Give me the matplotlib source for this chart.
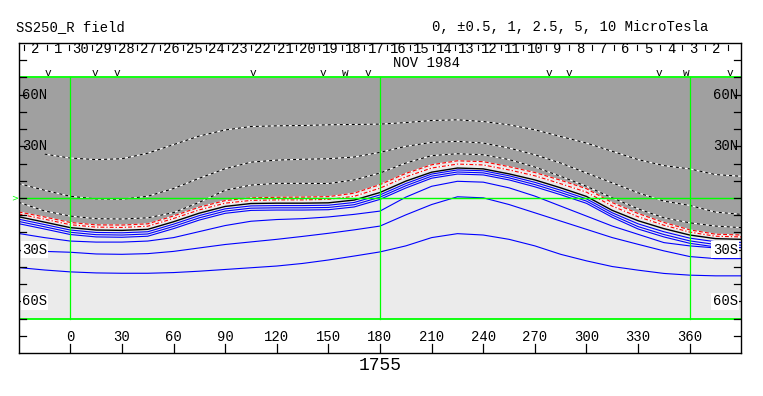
import numpy as np
import matplotlib.pyplot as plt

nan = np.nan

# Carrington longitude grid the contours were read on
lon = [-30, -15, 0, 15, 30, 45, 60, 75, 90, 105, 120, 135, 150, 165, 180,
       195, 210, 225, 240, 255, 270, 285, 300, 315, 330, 345, 360, 375, 390]

# dashed contours in the dark (negative) region
line_a = [nan, 25.5, 23.2, 22.3, 22.8, 26.0, 31.0, 36.0, 39.5, 41.5, 41.9, 42.1, 42.5, 42.7, 42.9,
          43.8, 45.0, 45.4, 44.4, 42.5, 39.6, 35.7, 31.9, 27.1, 22.3, 18.8, 16.9, 13.6, 12.6]
line_b = [8.4, 4.5, 1.0, -0.5, -0.7, 1.0, 5.5, 11.5, 17.0, 20.8, 22.0, 22.5, 22.8, 23.8, 26.5,
          30.0, 32.3, 32.9, 31.9, 29.0, 25.1, 20.3, 14.5, 8.8, 3.0, -1.8, -4.3, -8.2, -9.5]
line_c = [-2.5, -7.5, -10.5, -12.0, -12.2, -11.5, -8.5, -2.5, 4.5, 7.5, 8.5, 8.5, 8.4, 10.5, 14.5,
          20.3, 24.6, 25.7, 25.1, 22.3, 18.0, 12.6, 6.8, 0.1, -6.3, -11.5, -14.4, -16.3, -17.2]
# red contours (top one bounds the dark region)
red1 = [-8.1, -11.0, -14.2, -15.6, -15.7, -15.0, -10.4, -5.3, -1.5, 0.1, 0.4, 0.5, 0.8, 2.8, 7.8,
        14.3, 19.3, 21.6, 21.1, 18.2, 14.8, 10.3, 5.4, -2.7, -9.0, -14.2, -18.5, -21.0, -21.5]
red2 = [-9.3, -12.3, -15.5, -16.9, -17.1, -16.4, -11.9, -6.9, -3.0, -1.4, -1.1, -1.1, -0.8, 1.0, 5.7,
        12.3, 17.4, 19.7, 19.2, 16.3, 12.9, 8.3, 3.4, -4.7, -10.9, -15.8, -19.8, -22.2, -22.6]
# neutral line
neutral = [-10.9, -14.0, -17.2, -18.6, -18.8, -18.2, -13.8, -8.8, -4.9, -3.2, -3.0, -3.0, -2.8, -1.2, 3.2,
           9.8, 15.0, 17.4, 16.9, 14.0, 10.5, 5.9, 0.9, -7.2, -13.2, -17.8, -21.5, -23.6, -24.0]
# blue contours (positive)
blue1 = [-12.3, -15.4, -18.6, -20.0, -20.2, -19.6, -15.2, -10.2, -6.3, -4.6, -4.4, -4.4, -4.2, -2.6, 1.8,
         8.4, 13.9, 16.3, 15.8, 12.9, 9.1, 4.5, -0.5, -8.6, -15.0, -19.6, -23.3, -25.4, -25.8]
blue2 = [-13.6, -16.7, -19.9, -21.3, -21.5, -20.9, -16.5, -11.5, -7.6, -5.9, -5.7, -5.7, -5.5, -3.9, 0.5,
         7.1, 12.7, 15.1, 14.6, 11.7, 7.8, 3.2, -1.8, -9.9, -16.6, -21.2, -24.9, -27.0, -27.4]
blue3 = [-14.9, -18.0, -21.2, -22.6, -22.8, -22.2, -17.8, -12.8, -8.9, -7.2, -7.0, -7.0, -6.8, -5.2, -0.8,
         5.8, 11.5, 13.9, 13.4, 10.5, 6.5, 1.9, -3.1, -11.2, -18.0, -22.6, -26.3, -28.4, -28.8]
blue4 = [-20.6, -23.0, -25.0, -25.6, -25.6, -25.0, -23.0, -19.5, -16.0, -13.5, -12.5, -12.0, -11.0, -9.5, -7.6,
         0.5, 6.8, 9.7, 9.2, 5.9, 1.1, -4.7, -10.5, -16.3, -21.1, -25.9, -27.8, -29.0, nan]
blue5 = [-30.5, -31.0, -31.5, -32.5, -32.7, -32.3, -31.0, -29.0, -27.0, -25.5, -24.0, -22.3, -20.5, -18.5, -16.3,
         -9.8, -3.8, 0.7, 0.1, -3.8, -8.6, -13.4, -18.2, -23.0, -26.9, -30.7, -34.0, -35.2, -35.2]
blue6 = [-40.4, -41.8, -42.9, -43.5, -43.7, -43.7, -43.3, -42.5, -41.5, -40.5, -39.5, -38.0, -36.0, -33.7, -31.3,
         -27.8, -23.0, -20.7, -21.5, -24.0, -27.8, -32.7, -36.5, -39.8, -41.9, -43.8, -44.8, -45.2, -45.2]

day_labels = ['2', '1', '30', '29', '28', '27', '26', '25', '24', '23', '22', '21', '20', '19', '18', '17',
              '16', '15', '14', '13', '12', '11', '10', '9', '8', '7', '6', '5', '4', '3', '2']
first_day_lon = -20.4
v_lons = [-12.8, 14.5, 27.3, 105.9, 147.1, 172.7, 278.0, 289.6, 342.3, 383.3]
w_lons = [159.9, 357.7]
lat_ticks = [60, 30, -30, -60]
lat_names = ['60N', '30N', '30S', '60S']
lon_ticks = list(range(0, 361, 30))

dark = '#a0a0a0'
light = '#ebebeb'
green = '#00ff00'
blue = '#0000ff'
mono = 'Liberation Mono'

fig = plt.figure(figsize=(7.63, 3.96), dpi=100)
ax = fig.add_axes([19/763, 1-353/396, 722/763, 310/396])
ax.set_xlim(-29.8, 389.8)
ax.set_ylim(-90, 90)
ax.set_xticks([])
ax.set_yticks([])
for s in ax.spines.values():
    s.set_linewidth(1)
    s.set_zorder(10)

lon_a = np.array(lon)
# background shading
ax.fill_between([-30, 390], -70, 70, color=light, lw=0, zorder=0)
ax.fill_between(lon_a, red1, 70, color=dark, lw=0, zorder=1)

# black/white dashed contours
for ln in [line_a, line_b, line_c]:
    ax.plot(lon_a, ln, color='white', lw=0.8, zorder=3)
    ax.plot(lon_a, ln, color='black', lw=0.8, ls=(0, (2.7, 2.7)), zorder=4)

ax.plot(lon_a, red1, color='white', lw=0.8, zorder=3)
ax.plot(lon_a, red1, color='red', lw=0.8, ls=(0, (3.5, 2)), zorder=4)
ax.plot(lon_a, red2, color='white', lw=0.8, zorder=3)
ax.plot(lon_a, red2, color='red', lw=0.8, ls=(0, (3.5, 1.8, 1.2, 1.8)), zorder=4)
ax.plot(lon_a, neutral, color='black', lw=1.0, zorder=4)
for ln in [blue1, blue2, blue3, blue4, blue5, blue6]:
    ax.plot(lon_a, ln, color=blue, lw=0.8, zorder=4)

# green grid
ax.plot([-30, 390], [70, 70], color=green, lw=1.3, zorder=5)
ax.plot([-30, 390], [-70, -70], color=green, lw=1.3, zorder=5)
ax.plot([-30, 390], [0, 0], color=green, lw=1.0, zorder=5)
for x in [0, 180, 360]:
    ax.plot([x, x], [-70, 70], color=green, lw=0.9, zorder=5)
ax.text(-30.5, 0, '>', color=green, fontsize=6, ha='right', va='center', clip_on=False)

# frame ticks
for lat in range(-80, 81, 10):
    ax.plot([-29.8, -25.8], [lat, lat], color='black', lw=0.9, zorder=6)
    ax.plot([385.8, 389.8], [lat, lat], color='black', lw=0.9, zorder=6)
for x in lon_ticks:
    ax.plot([x, x], [-90, -84.8], color='black', lw=0.9, zorder=6)
    ax.text(x, -80.7, str(x), fontsize=10, family=mono, ha='center', va='center')

# latitude labels
for lat, name in zip(lat_ticks, lat_names):
    bb = dict(boxstyle='square,pad=0.1', fc='white', ec='none') if 'S' in name else None
    ax.text(-28.1, lat, name, fontsize=10, family=mono, ha='left', va='center', bbox=bb, zorder=7)
    ax.text(388.0, lat, name, fontsize=10, family=mono, ha='right', va='center', bbox=bb, zorder=7)

# day labels along the top
deg_per_day = 360 / 27.2753
for k, d in enumerate(day_labels):
    c = first_day_lon + k * deg_per_day
    ax.text(c, 86.6, d, fontsize=10, family=mono, ha='center', va='center')
    ax.plot([c - deg_per_day/2]*2, [88.8, 86.0], color='black', lw=0.8)
ax.plot([first_day_lon + 30.5*deg_per_day]*2, [88.8, 86.0], color='black', lw=0.8)
ax.text(207, 78.4, 'NOV 1984', fontsize=10, family=mono, ha='center', va='center')
for x in v_lons:
    ax.text(x, 71.0, 'v', fontsize=8, family=mono, ha='center', va='baseline')
for x in w_lons:
    ax.text(x, 71.0, 'w', fontsize=8, family=mono, ha='center', va='baseline')

fig.text(16/763, 1-27/396, 'SS250_R field', fontsize=10, family=mono, ha='left', va='center')
fig.text(432/763, 1-27/396, '0, \u00b10.5, 1, 2.5, 5, 10 MicroTesla', fontsize=10, family=mono,
         ha='left', va='center')
fig.text(380/763, 1-366/396, '1755', fontsize=13, family=mono, ha='center', va='center')

fig.savefig('out.png', dpi=100)
